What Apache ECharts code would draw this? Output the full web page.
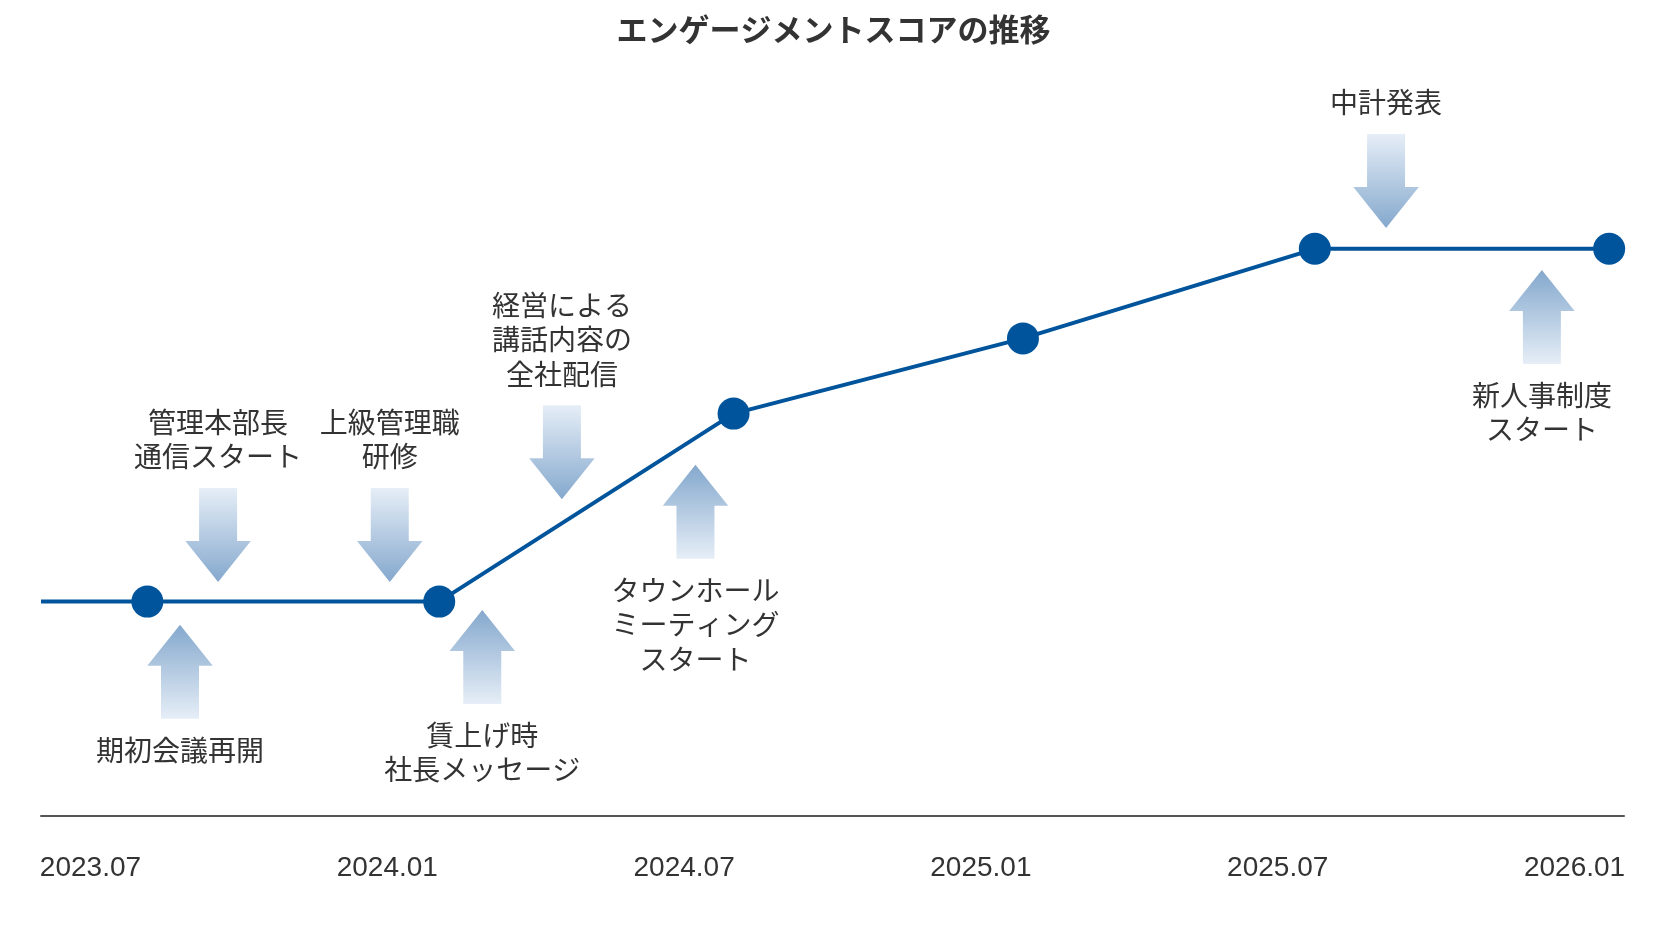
<!DOCTYPE html>
<html>
<head>
<meta charset="utf-8">
<script src="https://cdn.jsdelivr.net/npm/echarts@6/dist/echarts.min.js"></script>
<style>
html,body{margin:0;padding:0;background:#fff;}
#chart{width:1667px;height:925px;}
</style>
</head>
<body>
<div id="chart"></div>
<script>
// ---- data ----
const titleText = 'エンゲージメントスコアの推移';
const tickMonths = [0, 6, 12, 18, 24, 30];           // months since 2023.07
const tickLabels = ['2023.07', '2024.01', '2024.07', '2025.01', '2025.07', '2026.01'];
const surveyMonths = [1.15, 7.05, 13.0, 18.85, 24.75, 30.7];
const scores = [26.8, 26.8, 50.3, 59.7, 70.9, 70.9];
const eventLabels = [
  '管理本部長\n通信スタート',
  '上級管理職\n研修',
  '経営による\n講話内容の\n全社配信',
  '中計発表',
  '期初会議再開',
  '賃上げ時\n社長メッセージ',
  'タウンホール\nミーティング\nスタート',
  '新人事制度\nスタート'
];
const eventMonths = [2.58, 6.05, 9.53, 26.19, 1.81, 7.92, 12.23, 29.34];
const eventTipScores = [29.25, 29.25, 39.6, 73.5, 23.9, 25.75, 43.9, 68.25];
const eventDirections = ['down', 'down', 'down', 'down', 'up', 'up', 'up', 'up'];

const xMin = -1, xMax = 31;

const lineColor = '#00549b';
const textColor = '#333333';
const jpFont = '"Noto Sans CJK JP", "Noto Sans", sans-serif';

const lineData = [{ value: [xMin, scores[0]], symbolSize: 0 }].concat(
  surveyMonths.map((m, i) => ({ value: [m, scores[i]] }))
);
const eventData = eventMonths.map((m, i) => [m, eventTipScores[i], eventDirections[i] === 'down' ? 1 : -1, i]);

const chart = echarts.init(document.getElementById('chart'), null, { renderer: 'canvas' });

function renderArrow(params, api) {
  const x = api.value(0), y = api.value(1), s = api.value(2), li = api.value(3);
  const p = api.coord([x, y]);
  const tx = p[0], ty = p[1];
  const H = 94, HH = 41, SW = 19, HW = 32.75;
  const pts = [
    [tx - SW, ty - s * H], [tx + SW, ty - s * H], [tx + SW, ty - s * HH],
    [tx + HW, ty - s * HH], [tx, ty], [tx - HW, ty - s * HH], [tx - SW, ty - s * HH]
  ];
  const light = '#e6eef7', dark = '#84a8cd';
  const grad = new echarts.graphic.LinearGradient(0, 0, 0, 1, s === 1
    ? [{ offset: 0, color: light }, { offset: 1, color: dark }]
    : [{ offset: 0, color: dark }, { offset: 1, color: light }]);
  return {
    type: 'group',
    children: [
      { type: 'polygon', shape: { points: pts }, style: { fill: grad } },
      {
        type: 'text',
        style: {
          text: eventLabels[li],
          x: tx,
          y: s === 1 ? ty - H - 14 : ty + H + 14,
          align: 'center',
          verticalAlign: s === 1 ? 'bottom' : 'top',
          fill: textColor,
          fontSize: 28,
          lineHeight: 34.5,
          fontFamily: jpFont
        }
      }
    ]
  };
}

chart.setOption({
  backgroundColor: '#ffffff',
  animation: false,
  title: {
    text: titleText,
    left: 'center',
    top: 9,
    textStyle: { fontSize: 31, fontWeight: 'bold', color: textColor, fontFamily: jpFont }
  },
  grid: { left: 41, right: 43, top: 16, bottom: 109, containLabel: false },
  xAxis: {
    type: 'value',
    min: xMin,
    max: xMax,
    axisLine: { show: true, lineStyle: { color: '#555555', width: 2 } },
    axisTick: { show: false },
    splitLine: { show: false },
    axisLabel: {
      customValues: tickMonths,
      formatter: v => tickLabels[tickMonths.indexOf(v)] || '',
      margin: 38,
      fontSize: 28,
      color: textColor,
      fontFamily: '"Liberation Sans", Arial, sans-serif'
    }
  },
  yAxis: { type: 'value', min: 0, max: 100, show: false, splitLine: { show: false } },
  series: [
    {
      type: 'custom',
      renderItem: renderArrow,
      data: eventData,
      clip: false,
      silent: true,
      z: 1
    },
    {
      type: 'line',
      data: lineData,
      symbol: 'circle',
      symbolSize: 32,
      showAllSymbol: true,
      lineStyle: { color: lineColor, width: 4 },
      itemStyle: { color: lineColor },
      z: 3
    }
  ]
});
</script>
</body>
</html>
